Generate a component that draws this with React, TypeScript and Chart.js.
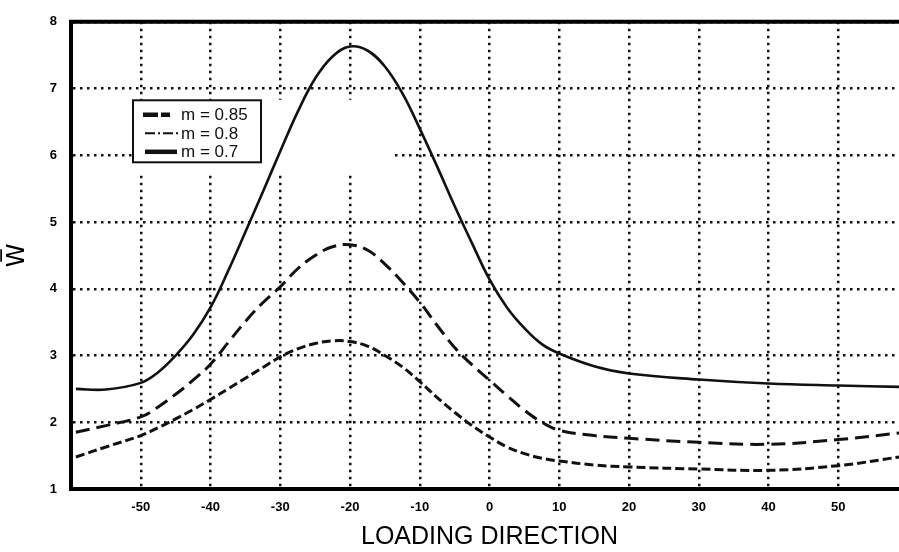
import React, { useEffect, useRef } from "react";
import { Chart, registerables } from "chart.js";

Chart.register(...registerables);

// ---- data ----
const xValues = [
  -59.3, -55, -50, -47.5, -45, -42.5, -40, -37.5, -35, -32.5, -30, -27.5, -25, -22.5, -20,
  -17.5, -15, -12.5, -10, -7.5, -5, -2.5, 0, 2.5, 5, 7.5, 10, 15, 20, 30, 40, 50, 58.8,
];
const seriesM085 = [
  1.85, 1.95, 2.08, 2.23, 2.42, 2.63, 2.87, 3.19, 3.51, 3.79, 4.03, 4.3, 4.5, 4.63, 4.66,
  4.58, 4.37, 4.1, 3.8, 3.45, 3.12, 2.86, 2.63, 2.4, 2.18, 2.0, 1.88, 1.8, 1.76, 1.7, 1.67, 1.74, 1.84,
];
const seriesM08 = [
  1.48, 1.63, 1.8, 1.92, 2.05, 2.19, 2.34, 2.5, 2.66, 2.82, 2.98, 3.1, 3.18, 3.22, 3.21,
  3.14, 3.0, 2.83, 2.61, 2.37, 2.15, 1.95, 1.78, 1.63, 1.53, 1.46, 1.42, 1.36, 1.33, 1.3, 1.28, 1.35, 1.48,
];
const seriesM07 = [
  2.5, 2.49, 2.59, 2.75, 3.0, 3.31, 3.72, 4.26, 4.85, 5.45, 6.06, 6.65, 7.15, 7.48, 7.63,
  7.57, 7.33, 6.93, 6.4, 5.83, 5.24, 4.68, 4.14, 3.72, 3.41, 3.17, 3.03, 2.84, 2.73, 2.64, 2.58, 2.55, 2.53,
];
const seriesLabels = ["m = 0.85", "m = 0.8", "m = 0.7"];
const xTickValues = [-50, -40, -30, -20, -10, 0, 10, 20, 30, 40, 50];
const yTickValues = [1, 2, 3, 4, 5, 6, 7, 8];
const xTitle = "LOADING DIRECTION";
const yTitle = "W\u0305";

const X_MIN = -60;
const X_MAX = 60;
const Y_MIN = 1;
const Y_MAX = 8;

// ---- styles ----
const INK = "#111";
const seriesDash = [[14, 7], [9, 4], []];
const seriesWidth = [3, 3, 2.6];
const legendDash = [[15, 3, 9, 40], [10, 3, 2, 3], []];
const legendWidth = [4.5, 2, 4.5];
const legendSpan = [[10, 37], [12, 45], [12, 44]];

const decorPlugin = {
  id: "decor",
  beforeDatasetsDraw(chart: any) {
    const { ctx, chartArea: a } = chart;
    ctx.save();
    ctx.fillStyle = "#fff";
    // blank band behind the legend (gridlines interrupted there)
    ctx.fillRect(a.left + 62, a.top + 78, 262, 73);
    ctx.restore();
  },
  afterDatasetsDraw(chart: any) {
    const { ctx, chartArea: a } = chart;
    ctx.save();
    // top frame line
    ctx.strokeStyle = "#000";
    ctx.lineWidth = 4;
    ctx.setLineDash([]);
    ctx.beginPath();
    ctx.moveTo(a.left - 2, a.top);
    ctx.lineTo(a.right + 2, a.top);
    ctx.stroke();

    // legend box
    const bx = a.left + 62;
    const by = a.top + 78.5;
    const bw = 128;
    const bh = 62;
    ctx.fillStyle = "#fff";
    ctx.fillRect(bx, by, bw, bh);
    ctx.lineWidth = 2;
    ctx.strokeStyle = INK;
    ctx.strokeRect(bx, by, bw, bh);

    const rows = [14.5, 33, 51.5];
    ctx.font = "17px 'Liberation Sans', Arial, sans-serif";
    ctx.textAlign = "left";
    ctx.textBaseline = "middle";
    chart.data.datasets.forEach((ds: any, i: number) => {
      const y = by + rows[i];
      ctx.strokeStyle = INK;
      ctx.lineWidth = legendWidth[i];
      ctx.setLineDash(legendDash[i]);
      ctx.beginPath();
      ctx.moveTo(bx + legendSpan[i][0], y);
      ctx.lineTo(bx + legendSpan[i][1], y);
      ctx.stroke();
      ctx.setLineDash([]);
      ctx.fillStyle = INK;
      ctx.fillText(ds.label, bx + 48, y + 1);
    });
    ctx.restore();
  },
};

export default function App() {
  const ref = useRef<HTMLCanvasElement | null>(null);

  useEffect(() => {
    if (!ref.current) return;
    const mk = (ys: number[]) => xValues.map((x, i) => ({ x, y: ys[i] }));
    const allSeries = [seriesM085, seriesM08, seriesM07];
    const chart = new Chart(ref.current, {
      type: "line",
      data: {
        datasets: allSeries.map((s, i) => ({
          label: seriesLabels[i],
          data: mk(s),
          borderColor: INK,
          borderWidth: seriesWidth[i],
          borderDash: seriesDash[i],
          pointRadius: 0,
          fill: false,
          tension: 0.4,
        })),
      },
      options: {
        responsive: false,
        animation: false,
        layout: { padding: { top: 13, left: 0, right: 0, bottom: 0 } },
        plugins: { legend: { display: false }, tooltip: { enabled: false } },
        scales: {
          x: {
            type: "linear",
            min: X_MIN,
            max: X_MAX,
            afterBuildTicks: (s: any) => {
              s.ticks = xTickValues.map((v) => ({ value: v }));
            },
            afterFit: (s: any) => {
              s.height = 63;
            },
            grid: { color: INK, lineWidth: 2.5, drawTicks: false },
            border: { display: true, color: "#000", width: 4, dash: [2.5, 4.5] },
            ticks: {
              color: "#000",
              padding: 11,
              autoSkip: false,
              maxRotation: 0,
              font: { family: "'Liberation Sans', Arial, sans-serif", size: 13, weight: "bold" },
            },
            title: {
              display: true,
              text: xTitle,
              color: "#000",
              padding: { top: 0, bottom: 0 },
              font: { family: "'Liberation Sans', Arial, sans-serif", size: 25 },
            },
          },
          y: {
            type: "linear",
            min: Y_MIN,
            max: Y_MAX,
            afterBuildTicks: (s: any) => {
              s.ticks = yTickValues.map((v) => ({ value: v }));
            },
            afterFit: (s: any) => {
              s.width = 71;
            },
            grid: { color: INK, lineWidth: 2.5, drawTicks: false },
            border: { display: true, color: "#000", width: 4, dash: [2.5, 4.5] },
            ticks: {
              color: "#000",
              padding: 14,
              font: { family: "'Liberation Sans', Arial, sans-serif", size: 13, weight: "bold" },
            },
            title: {
              display: true,
              text: yTitle,
              color: "#000",
              padding: { top: 3, bottom: 0 },
              font: { family: "'DejaVu Sans', sans-serif", size: 24 },
            },
          },
        },
      },
      plugins: [decorPlugin],
    } as any);
    return () => chart.destroy();
  }, []);

  return (
    <div
      style={{
        position: "absolute",
        left: 0,
        top: 0,
        width: 899,
        height: 552,
        overflow: "hidden",
        background: "#fff",
      }}
    >
      <canvas ref={ref} width={908} height={552} style={{ display: "block" }} />
    </div>
  );
}
